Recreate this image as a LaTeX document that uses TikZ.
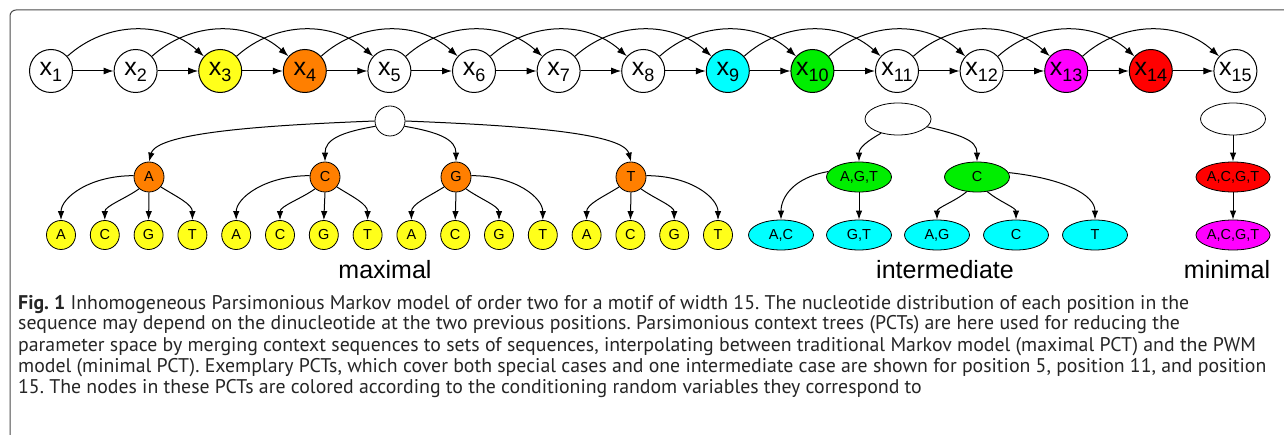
\documentclass[tikz,border=0pt]{standalone}
\usepackage{fontspec}
\setmainfont{Liberation Sans}
\newfontfamily\capfont{PT Sans}
\usetikzlibrary{arrows.meta,shapes.geometric}
\definecolor{cyel}{HTML}{FFFF1A}
\definecolor{corg}{HTML}{FF7F00}
\definecolor{ccya}{HTML}{00FFFF}
\definecolor{cgrn}{HTML}{00EE00}
\definecolor{cmag}{HTML}{FF00FF}
\definecolor{cred}{HTML}{FF0000}
\newcommand\xl[1]{\smash{\raisebox{-5pt}{x\raisebox{-6pt}{\fontsize{18}{18}\selectfont #1}}}}
\tikzset{
  xnode/.style={circle,draw,line width=1pt,minimum size=43pt,inner sep=0pt,font=\fontsize{25}{25}\selectfont},
  arr/.style={-{Latex[length=10pt,width=7pt]},line width=1pt},
  sarr/.style={-{Latex[length=9pt,width=6.5pt]},line width=1pt},
  pnode/.style={circle,draw,line width=0.8pt,minimum size=30pt,inner sep=0pt,font=\fontsize{14.5}{14.5}\selectfont},
  lnode/.style={circle,draw,line width=0.8pt,fill=cyel,minimum size=29pt,inner sep=0pt,font=\fontsize{14.5}{14.5}\selectfont},
  enode/.style={ellipse,draw,line width=0.8pt,minimum width=65pt,minimum height=30pt,inner sep=0pt,font=\fontsize{14.5}{14.5}\selectfont},
  lab/.style={font=\fontsize{25}{25}\selectfont,anchor=base,inner sep=0pt},
  capl/.style={font=\capfont\fontsize{19.8}{19.8}\selectfont\frenchspacing,anchor=base west,inner sep=0pt,text=black!85}
}
\begin{document}
\begin{tikzpicture}[x=1pt,y=-1pt]
\useasboundingbox (0,0) rectangle (1284,435);
\fill[white] (0,0) rectangle (1284,435);
% frame
\draw[black!70,line width=1pt,rounded corners=6pt] (10,435) -- (10,10) -- (1284,10);
% top chain
\foreach \i/\c in {1/white,2/white,3/cyel,4/corg,5/white,6/white,7/white,8/white,9/ccya,10/cgrn,11/white,12/white,13/cmag,14/cred,15/white}{
  \node[xnode,fill=\c] (x\i) at ({51+84.6*(\i-1)},71) {\xl{\i}};
}
\foreach \i [evaluate=\i as \j using int(\i+1)] in {1,...,14}{
  \draw[arr] (x\i) -- (x\j);
}
\foreach \i [evaluate=\i as \j using int(\i+2)] in {1,...,13}{
  \draw[arr] (x\i) to[out=42,in=138] (x\j);
}
% maximal tree
\node[pnode,fill=white] (r1) at (390,121) {};
\node[pnode,fill=corg] (pA) at (149,177) {A};
\node[pnode,fill=corg] (pC) at (325,177) {C};
\node[pnode,fill=corg] (pG) at (456,177) {G};
\node[pnode,fill=corg] (pT) at (631,177) {T};
\foreach \k/\t in {0/A,1/C,2/G,3/T,4/A,5/C,6/G,7/T,8/A,9/C,10/G,11/T,12/A,13/C,14/G,15/T}{
  \node[lnode] (l\k) at ({61+43.8*\k},235) {\t};
}
\draw[sarr] (r1.west) .. controls +(-100,4) and +(8,-30) .. (pA.north);
\draw[sarr] (r1.200) .. controls +(-35,6) and +(0,-22) .. (pC.north);
\draw[sarr] (r1.-20) .. controls +(35,6) and +(0,-22) .. (pG.north);
\draw[sarr] (r1.east) .. controls +(100,4) and +(-8,-30) .. (pT.north);
% A, C parents (above third child)
\foreach \p/\a/\b/\c/\d in {pA/0/1/2/3,pC/4/5/6/7}{
  \draw[sarr] (\p.175) .. controls +(-45,0) and +(0,-22) .. (l\a.north);
  \draw[sarr] (\p.230) .. controls +(-14,10) and +(0,-14) .. (l\b.north);
  \draw[sarr] (\p.south) -- (l\c.north);
  \draw[sarr] (\p.-40) .. controls +(16,10) and +(0,-16) .. (l\d.north);
}
% G, T parents (above second child)
\foreach \p/\a/\b/\c/\d in {pG/8/9/10/11,pT/12/13/14/15}{
  \draw[sarr] (\p.220) .. controls +(-16,10) and +(0,-16) .. (l\a.north);
  \draw[sarr] (\p.south) -- (l\b.north);
  \draw[sarr] (\p.-50) .. controls +(14,10) and +(0,-14) .. (l\c.north);
  \draw[sarr] (\p.5) .. controls +(45,0) and +(0,-22) .. (l\d.north);
}
\node[lab] (labmax) at (385,279) {maximal};
% intermediate tree
\node[enode,fill=white,minimum height=32pt,minimum width=66pt] (r2) at (898,119) {};
\node[enode,fill=cgrn] (agt) at (859,177) {A,G,T};
\node[enode,fill=cgrn] (c2) at (977,177) {C};
\node[enode,fill=ccya] (iac) at (781,235) {A,C};
\node[enode,fill=ccya] (igt) at (859,235) {G,T};
\node[enode,fill=ccya] (iag) at (937,235) {A,G};
\node[enode,fill=ccya] (ic) at (1016,235) {C};
\node[enode,fill=ccya] (it) at (1095,235) {T};
\draw[sarr] (r2.220) .. controls +(-14,8) and +(0,-14) .. (agt.north);
\draw[sarr] (r2.-15) .. controls +(32,8) and +(0,-22) .. (c2.north);
\draw[sarr] (agt.170) .. controls +(-35,6) and +(0,-22) .. (iac.north);
\draw[sarr] (agt.south) -- (igt.north);
\draw[sarr] (c2.235) .. controls +(-12,10) and +(0,-12) .. (iag.north);
\draw[sarr] (c2.-55) .. controls +(12,10) and +(0,-12) .. (ic.north);
\draw[sarr] (c2.8) .. controls +(55,6) and +(0,-25) .. (it.north);
\node[lab] (labint) at (945,279) {intermediate};
% minimal tree
\node[enode,fill=white,minimum height=32pt] (r3) at (1233,119) {};
\node[enode,fill=cred] (m1) at (1233,177) {A,C,G,T};
\node[enode,fill=cmag] (m2) at (1233,235) {A,C,G,T};
\draw[sarr] (r3) -- (m1);
\draw[sarr] (m1) -- (m2);
\node[lab] (labmin) at (1227,279) {minimal};
% caption
\node[capl] (c1) at (18,309) {\textbf{Fig. 1} Inhomogeneous Parsimonious Markov model of order two for a motif of width 15. The nucleotide distribution of each position in the};
\node[capl] (c2l) at (18,330) {sequence may depend on the dinucleotide at the two previous positions. Parsimonious context trees (PCTs) are here used for reducing the};
\node[capl] (c3) at (18,351) {parameter space by merging context sequences to sets of sequences, interpolating between traditional Markov model (maximal PCT) and the PWM};
\node[capl] (c4) at (18,372) {model (minimal PCT). Exemplary PCTs, which cover both special cases and one intermediate case are shown for position 5, position 11, and position};
\node[capl] (c5) at (18,393) {15. The nodes in these PCTs are colored according to the conditioning random variables they correspond to};
\end{tikzpicture}
\end{document}
